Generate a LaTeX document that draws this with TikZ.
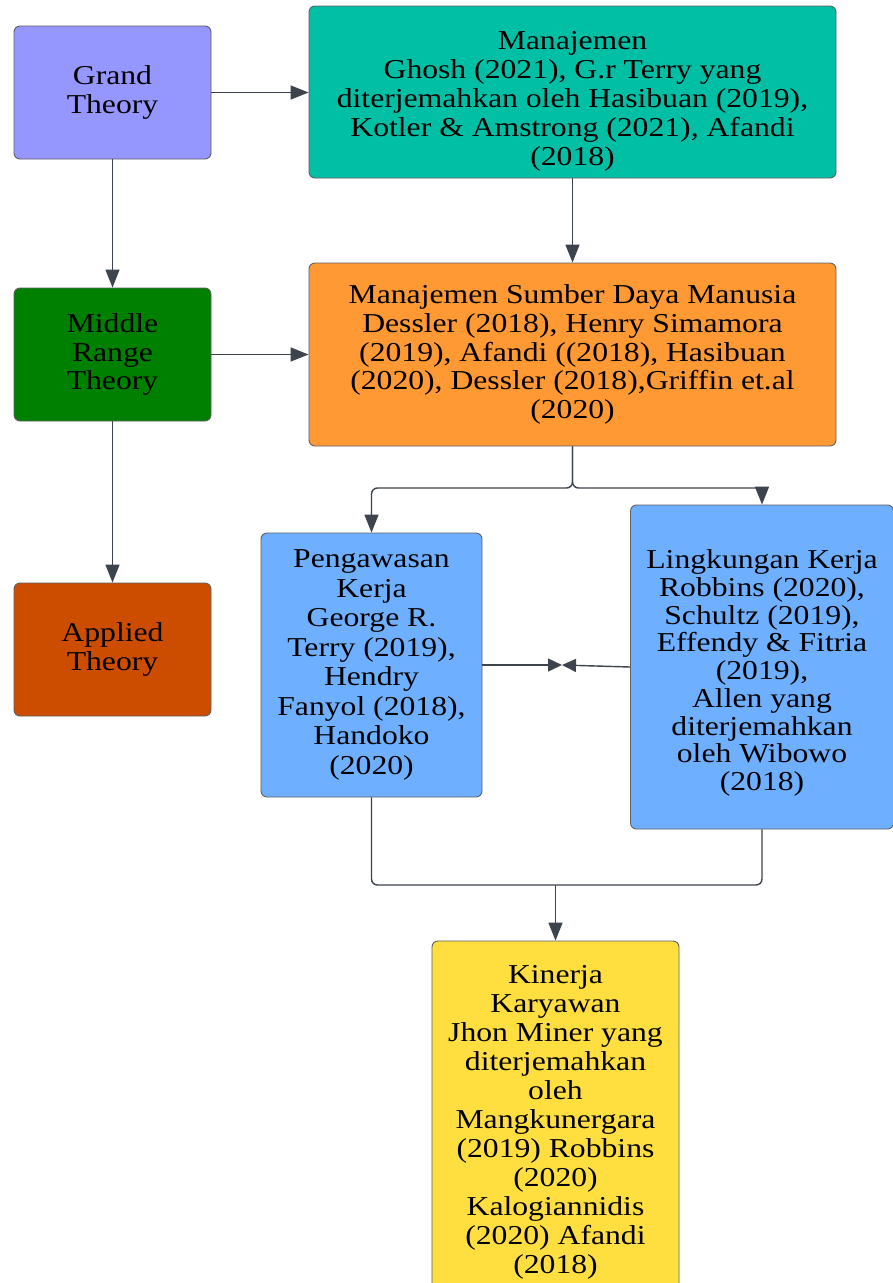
\documentclass[tikz,border=0pt]{standalone}
\usepackage{fontspec}
\setmainfont[FakeStretch=1.16]{Liberation Serif}
\usetikzlibrary{arrows.meta,calc}
\definecolor{cgrand}{RGB}{150,150,255}
\definecolor{cteal}{RGB}{0,191,165}
\definecolor{cgreen}{RGB}{0,128,0}
\definecolor{corange}{RGB}{255,153,51}
\definecolor{capplied}{RGB}{204,77,0}
\definecolor{cblue}{RGB}{110,176,255}
\definecolor{cyellow}{RGB}{255,222,64}
\definecolor{cline}{RGB}{62,68,78}
\definecolor{cborder}{RGB}{95,95,100}
\begin{document}
\begin{tikzpicture}[x=1pt,y=-1pt,
  box/.style={draw=cborder, line width=0.9pt, rounded corners=6pt, align=center, inner sep=0pt,
    font=\fontsize{27.3}{28.8}\selectfont},
  conn/.style={draw=cline, line width=1.4pt},
  arr/.style={conn, -{Triangle[length=18pt,width=14pt]}},
  barr/.style={conn, -{Triangle[length=14pt,width=13pt]}}
]
\useasboundingbox (0,0) rectangle (892,1283);
\fill[white] (0,0) rectangle (892,1283);

\node[box, fill=cgrand, minimum width=197pt, minimum height=133pt] (grand) at (112.5,92.5) {Grand\\Theory};
\node[box, fill=cteal, minimum width=527pt, minimum height=172pt] (man) at (572.5,92) {\rule{0pt}{37pt}Manajemen\\Ghosh (2021), G.r Terry yang\\diterjemahkan oleh Hasibuan (2019),\\Kotler \& Amstrong (2021), Afandi\\(2018)};
\node[box, fill=cgreen, minimum width=197pt, minimum height=133pt] (middle) at (112.5,354.5) {Middle\\Range\\Theory};
\node[box, fill=corange, minimum width=527pt, minimum height=183pt] (msdm) at (572.5,354.5) {Manajemen Sumber Daya Manusia\\Dessler (2018), Henry Simamora\\(2019), Afandi ((2018), Hasibuan\\(2020), Dessler (2018),Griffin et.al\\(2020)};
\node[box, fill=capplied, minimum width=197pt, minimum height=133pt] (applied) at (112.5,649.5) {Applied\\Theory};
\node[box, fill=cblue, minimum width=221pt, minimum height=264pt, font=\fontsize{27.3}{29.5}\selectfont] (peng) at (371.5,665) {Pengawasan\\Kerja\\George R.\\Terry (2019),\\Hendry\\Fanyol (2018),\\Handoko\\(2020)};
\node[box, fill=cblue, minimum width=263pt, minimum height=324pt, font=\fontsize{27.3}{27.7}\selectfont] (ling) at (762,667) {\rule{0pt}{31pt}Lingkungan Kerja\\Robbins (2020),\\Schultz (2019),\\Effendy \& Fitria\\(2019),\\Allen yang\\diterjemahkan\\oleh Wibowo\\(2018)};
\node[box, fill=cyellow, minimum width=247pt, minimum height=362pt, font=\fontsize{27.3}{29}\selectfont] (kin) at (555.5,1122) {Kinerja\\Karyawan\\Jhon Miner yang\\diterjemahkan\\oleh\\Mangkunergara\\(2019) Robbins\\(2020)\\Kalogiannidis\\(2020) Afandi\\(2018)};

\coordinate (split) at (572.5,488);
\coordinate (bow) at (562,665);
\coordinate (merge) at (555.5,885);

\draw[arr] (grand.east) -- (grand.east -| man.west);
\draw[arr] (grand.south) -- (middle.north);
\draw[arr] (middle.south) -- (applied.north);
\draw[arr] (middle.east) -- (middle.east -| msdm.west);
\draw[arr] (man.south) -- (msdm.north);
\draw[arr, rounded corners=6pt] (msdm.south) -- (split) -| (peng.north);
\draw[arr, rounded corners=6pt] (msdm.south) -- (split) -| (ling.north);
\draw[barr] (peng.east) -- (bow);
\draw[barr] (ling.west) -- (bow);
\draw[conn, rounded corners=6pt] (peng.south) |- (merge);
\draw[conn, rounded corners=6pt] (ling.south) |- (merge);
\draw[arr] (merge) -- (kin.north);
\end{tikzpicture}
\end{document}
